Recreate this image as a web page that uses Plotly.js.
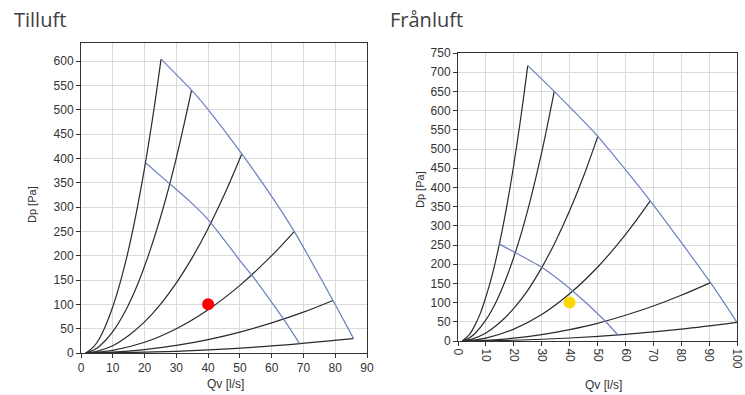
<!DOCTYPE html>
<html>
<head>
<meta charset="utf-8">
<script src="https://cdn.plot.ly/plotly-3.0.1.min.js"></script>
<style>
html,body{margin:0;padding:0;background:#fff;}
#chart{width:745px;height:395px;}
</style>
</head>
<body>
<div id="chart"></div>
<script>
// ---- Tilluft (left) ----
const tilluftSystemQ = [
  [1.5, 4, 6, 8, 10, 12, 14, 16, 18, 20, 22.5, 25.2],
  [1.5, 4, 6, 10, 14, 18, 22, 26, 30, 34.8],
  [1.5, 5, 10, 15, 20, 25, 30, 35, 40, 45, 50.6],
  [1.5, 10, 20, 30, 40, 50, 60, 67],
  [1.5, 10, 20, 30, 40, 50, 60, 70, 79.3],
  [1.5, 20, 40, 60, 85.6]
];
const tilluftSystemP = [
  [0, 13, 32, 60, 95, 137, 186, 243, 308, 380, 481, 604],
  [0, 6, 15, 44, 87, 144, 216, 301, 401, 540],
  [0, 3.5, 15, 36, 64, 100, 144, 196, 256, 324, 409],
  [0, 5.5, 22, 50, 89, 139, 200, 249],
  [0, 1.7, 7, 15.5, 27.5, 43, 62, 84, 108],
  [0, 1.6, 6.5, 14.5, 29.6]
];
const tilluftMaxQ = [25.2, 34.8, 40, 50.6, 60, 67.1, 79.3, 85.8];
const tilluftMaxP = [604, 540, 500, 409, 322, 250, 108, 29.6];
const tilluftMinQ = [20.3, 27.5, 34, 40, 45, 50, 54, 58.5, 63.6, 68.8];
const tilluftMinP = [391, 350, 313, 274, 233, 190, 158, 118, 71, 19.3];
const tilluftPointQ = [40];
const tilluftPointP = [100];

// ---- Frånluft (right) ----
const franluftSystemQ = [
  [1.5, 4, 6, 8, 10, 12, 14, 16, 18, 20, 22.5, 25],
  [1.5, 4, 6, 10, 14, 18, 22, 26, 30, 34.5],
  [1.5, 5, 10, 15, 20, 25, 30, 35, 40, 45, 50.1],
  [1.5, 10, 20, 30, 40, 50, 60, 68.9],
  [1.5, 10, 20, 30, 40, 50, 60, 70, 80, 90.5],
  [1.5, 20, 40, 60, 80, 100]
];
const franluftSystemP = [
  [0, 16, 40, 72, 115, 165, 225, 294, 372, 459, 581, 717],
  [0, 8, 19, 55, 107, 177, 264, 369, 491, 650],
  [0, 5, 21, 48, 85, 132, 191, 260, 339, 429, 533],
  [0, 7.7, 31, 69, 123, 192, 277, 365],
  [0, 1.9, 7.4, 16.7, 29.7, 46, 67, 91, 119, 152],
  [0, 2, 7.8, 17.5, 31, 48.7]
];
const franluftMaxQ = [25, 34.5, 50.1, 68.9, 90.5, 100];
const franluftMaxP = [717, 650, 533, 365, 152, 48.7];
const franluftMinQ = [14.7, 20.3, 30, 41, 52.2, 57.3];
const franluftMinP = [253, 231, 192, 131, 56, 15.6];
const franluftPointQ = [40];
const franluftPointP = [100];

const BLACK = '#2b2b2b';
const BLUE = '#6b7fc0';
const traces = [];

function addChart(sysQ, sysP, maxQ, maxP, minQ, minP, ptQ, ptP, ptColor, xa, ya) {
  for (let i = 0; i < sysQ.length; i++) {
    traces.push({x: sysQ[i], y: sysP[i], xaxis: xa, yaxis: ya, mode: 'lines',
      line: {color: BLACK, width: 1.2, shape: 'spline', smoothing: 1}, hoverinfo: 'skip'});
  }
  traces.push({x: maxQ, y: maxP, xaxis: xa, yaxis: ya, mode: 'lines',
    line: {color: BLUE, width: 1.2, shape: 'spline', smoothing: 0.6}, hoverinfo: 'skip'});
  traces.push({x: minQ, y: minP, xaxis: xa, yaxis: ya, mode: 'lines',
    line: {color: BLUE, width: 1.2, shape: 'spline', smoothing: 0.6}, hoverinfo: 'skip'});
  traces.push({x: ptQ, y: ptP, xaxis: xa, yaxis: ya, mode: 'markers',
    marker: {color: ptColor, size: 12}, hoverinfo: 'skip'});
}
addChart(tilluftSystemQ, tilluftSystemP, tilluftMaxQ, tilluftMaxP, tilluftMinQ, tilluftMinP,
  tilluftPointQ, tilluftPointP, '#ff0000', 'x', 'y');
addChart(franluftSystemQ, franluftSystemP, franluftMaxQ, franluftMaxP, franluftMinQ, franluftMinP,
  franluftPointQ, franluftPointP, '#ffd700', 'x2', 'y2');

const W = 745, H = 395;
const tickFont = {family: 'Liberation Sans, Arial, sans-serif', size: 12, color: '#333'};
function ax(extra) {
  return Object.assign({
    showgrid: true, gridcolor: '#dadada', gridwidth: 1,
    showline: true, linecolor: '#333', linewidth: 1, mirror: true,
    ticks: 'outside', ticklen: 4, tickcolor: '#333', tickwidth: 1,
    zeroline: false, tickfont: tickFont, fixedrange: true
  }, extra);
}

const ann = (text, x, y, size, angle, color) => ({
  text: text, xref: 'paper', yref: 'paper', x: x / W, y: 1 - y / H,
  xanchor: 'center', yanchor: 'middle', showarrow: false, textangle: angle || 0,
  font: {family: 'Liberation Sans, Arial, sans-serif', size: size, color: color || '#333'}
});

const layout = {
  width: W, height: H,
  margin: {l: 0, r: 0, t: 0, b: 0},
  paper_bgcolor: '#fff', plot_bgcolor: '#fff',
  showlegend: false,
  xaxis: ax({domain: [81 / W, 367 / W], range: [0, 90], dtick: 10, tick0: 0, anchor: 'y'}),
  yaxis: ax({domain: [1 - 353 / H, 1 - 43 / H], range: [0, 637], dtick: 50, tick0: 0, anchor: 'x'}),
  xaxis2: ax({domain: [458 / W, 737 / W], range: [0, 100], dtick: 10, tick0: 0, anchor: 'y2',
    tickangle: 90, ticklabeloverflow: 'allow'}),
  yaxis2: ax({domain: [1 - 341 / H, 1 - 53 / H], range: [0, 750], dtick: 50, tick0: 0, anchor: 'x2'}),
  annotations: [
    Object.assign(ann('Tilluft', 12, 19, 21, 0, '#404040'), {xanchor: 'left', font: {family: 'Open Sans, sans-serif', size: 20, color: '#404040'}}),
    Object.assign(ann('Frånluft', 388, 19, 21, 0, '#404040'), {xanchor: 'left', font: {family: 'Open Sans, sans-serif', size: 20, color: '#404040'}}),
    ann('Dp [Pa]', 32, 205, 11, -90),
    ann('Dp [Pa]', 420, 190, 11, -90),
    ann('Qv [l/s]', 225, 384, 12),
    ann('Qv [l/s]', 603, 385, 12)
  ]
};

Plotly.newPlot('chart', traces, layout, {displayModeBar: false, staticPlot: true});
</script>
</body>
</html>
